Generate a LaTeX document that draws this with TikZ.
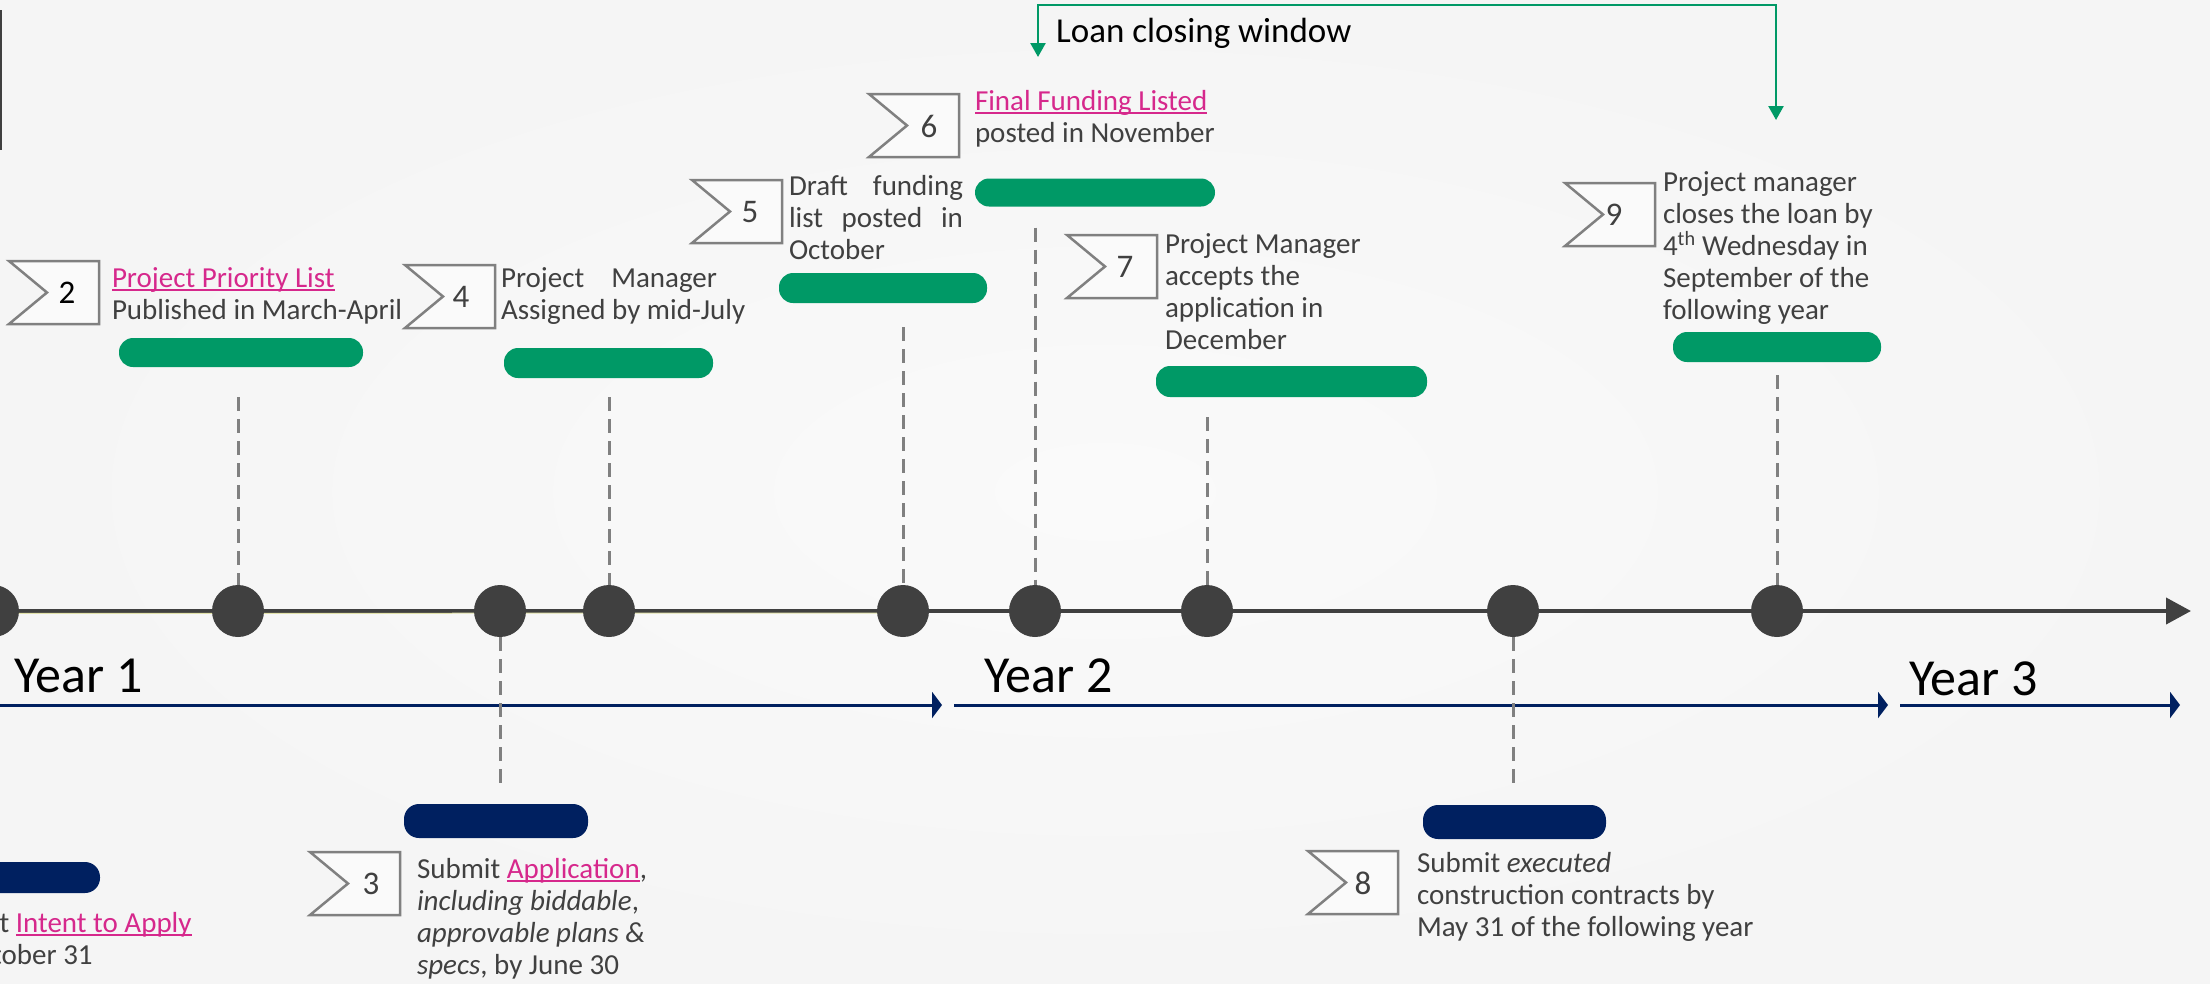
\documentclass[tikz,border=0pt]{standalone}
\usepackage{fontspec}
\setmainfont{Carlito}
\usetikzlibrary{arrows.meta,calc}
\definecolor{bg}{RGB}{245,245,245}
\definecolor{bgin}{RGB}{250,250,250}
\definecolor{tgray}{RGB}{64,64,64}
\definecolor{dotc}{RGB}{64,64,64}
\definecolor{gbar}{RGB}{0,153,102}
\definecolor{nbar}{RGB}{0,32,96}
\definecolor{lpink}{RGB}{214,40,140}
\definecolor{dgray}{RGB}{128,128,128}
\definecolor{paley}{RGB}{225,225,170}
\newcommand\lnk[1]{{\color{lpink}\setbox0\hbox{#1}\rlap{\rule[-3.5pt]{\wd0}{2pt}}\box0}}
\newcommand\fl{\rule{0pt}{23pt}}
\newcommand\bodyf{\fontsize{29}{32}\selectfont}
\newcommand\chevron[5]{%
  \draw[chev] (#2,#3) -- ++(90,0) -- ++(0,63) -- ++(-90,0) -- ++(38,-31.5) -- cycle;
  \node[chnum] (#1) at (#2+#5,#3+32) {#4};}
\begin{document}
\begin{tikzpicture}[x=1pt,y=-1pt,
  txt/.style={anchor=north west, inner sep=0pt, outer sep=0pt, align=left, font=\bodyf, text=tgray},
  gb/.style={rectangle, rounded corners=14pt, fill=gbar, inner sep=0pt},
  nb/.style={rectangle, rounded corners=15pt, fill=nbar, inner sep=0pt},
  dot/.style={circle, fill=dotc, minimum size=52pt, inner sep=0pt},
  dsh/.style={draw=dgray, line width=3pt, dash pattern=on 14pt off 8pt},
  chev/.style={draw=dgray, line width=2.5pt, fill=white!50!bg},
  chnum/.style={font=\fontsize{33}{36}\selectfont, text=tgray, inner sep=0pt},
  year/.style={font=\fontsize{52}{54}\selectfont, anchor=base west, inner sep=0pt, text=black},
  yarrow/.style={draw=nbar, line width=3pt, -{Triangle[length=10pt,width=26pt]}},
  bracket/.style={draw=gbar, line width=2.5pt, {Triangle[length=14pt,width=15pt]}-{Triangle[length=14pt,width=15pt]}}
]
\useasboundingbox (0,0) rectangle (2210,983);
\clip (0,0) rectangle (2210,983);
\shade[inner color=bgin, outer color=bg] (0,0) rectangle (2210,983);
% left frame fragment
\draw[draw=tgray, line width=2pt] (0.8,10) -- (0.8,150);

% loan closing window bracket
\coordinate (lwa) at (1038,57);
\coordinate (lwb) at (1038,5);
\coordinate (lwc) at (1776,5);
\coordinate (lwd) at (1776,120);
\draw[bracket] (lwa) -- (lwb) -- (lwc) -- (lwd);
\node[anchor=base west, inner sep=0pt, font=\fontsize{35}{37}\selectfont, text=black] (loan) at (1056,42) {Loan closing window};

% timeline
\coordinate (tl0) at (-40,611);
\coordinate (tl1) at (2191,611);
\coordinate (tlm) at (903,613);
\draw[draw=dotc, line width=4pt, -{Triangle[length=25pt,width=26pt]}] (tl0) -- (tl1);
\draw[draw=paley, line width=1pt] (-40,613.5) -- (tlm);

% year arrows
\coordinate (ya0) at (-10,705);
\coordinate (ya1) at (942,705);
\coordinate (yb0) at (954,705);
\coordinate (yb1) at (1888,705);
\coordinate (yc0) at (1900,705);
\coordinate (yc1) at (2180,705);
\draw[yarrow] (ya0) -- (ya1);
\draw[yarrow] (yb0) -- (yb1);
\draw[yarrow] (yc0) -- (yc1);
\node[year] (y1) at (14,692) {Year 1};
\node[year] (y2) at (984,692) {Year 2};
\node[year] (y3) at (1909,695) {Year 3};

% milestone dots
\node[dot] (A) at (-7,611) {};
\node[dot] (B) at (238,611) {};
\node[dot] (C) at (500,611) {};
\node[dot] (D) at (609,611) {};
\node[dot] (E) at (903,611) {};
\node[dot] (F) at (1035,611) {};
\node[dot] (G) at (1207,611) {};
\node[dot] (H) at (1513,611) {};
\node[dot] (I) at (1777,611) {};

% bars
\node[gb, minimum width=244pt, minimum height=29pt] (b2) at (241,352.5) {};
\node[gb, minimum width=209pt, minimum height=30pt] (b4) at (608.5,363) {};
\node[gb, minimum width=208pt, minimum height=30pt] (b5) at (883,288) {};
\node[gb, minimum width=240pt, minimum height=28pt] (b6) at (1095,192.5) {};
\node[gb, minimum width=271pt, minimum height=31pt] (b7) at (1291.5,381.5) {};
\node[gb, minimum width=208pt, minimum height=30pt] (b9) at (1777,347) {};
\node[nb, minimum width=150pt, minimum height=31pt] (n1) at (25,877.5) {};
\node[nb, minimum width=184pt, minimum height=34pt] (n3) at (496,821) {};
\node[nb, minimum width=183pt, minimum height=34pt] (n8) at (1514.5,822) {};

% dashed connectors
\draw[dsh] ($(B |- b2.south)+(0,30)$) -- (B.north);
\draw[dsh] ($(D |- b4.south)+(0,19)$) -- (D.north);
\draw[dsh] ($(E |- b5.south)+(0,24)$) -- (E.north);
\draw[dsh] ($(F |- b6.south)+(0,21)$) -- (F.north);
\draw[dsh] ($(G |- b7.south)+(0,20)$) -- (G.north);
\draw[dsh] ($(I |- b9.south)+(0,13)$) -- (I.north);
\draw[dsh] (C.south) -- ($(C |- n3.north)+(0,-14)$);
\draw[dsh] (H.south) -- ($(H |- n8.north)+(0,-15)$);

% chevrons
\chevron{ch2}{9}{261}{\textcolor{black}{2}}{58}
\chevron{ch4}{405}{265}{4}{56}
\chevron{ch5}{692}{180}{5}{58}
\chevron{ch6}{869}{94}{6}{60}
\chevron{ch7}{1067}{235}{7}{58}
\chevron{ch9}{1565}{183}{9}{49}
\chevron{ch3}{310}{852}{3}{61}
\chevron{ch8}{1308}{851}{8}{55}

% texts
\node[txt] (t2) at (112,264) {\fl\lnk{Project Priority List}\\Published in March-April};
\node[txt] (t4) at (501,264) {\fl\hbox to 216pt{Project\hfill Manager}\\Assigned by mid-July};
\node[txt] (t5) at (789,172) {\fl\hbox to 174pt{Draft\hfill funding}\\\hbox to 174pt{list\hfill posted\hfill in}\\October};
\node[txt] (t6) at (975,87) {\fl\lnk{Final Funding Listed}\\posted in November};
\node[txt] (t7) at (1165,230) {\fl Project Manager\\accepts the\\application in\\December};
\node[txt] (t9) at (1663,168) {\fl Project manager\\closes the loan by\\4\textsuperscript{th} Wednesday in\\September of the\\following year};
\node[txt] (t1) at (-74,909) {\fl Submit \lnk{Intent to Apply}\\by October 31};
\node[txt] (t3) at (417,855) {\fl Submit \lnk{Application},\\\textit{including biddable},\\\textit{approvable plans \&}\\\textit{specs}, by June 30};
\node[txt] (t8) at (1417,849) {\fl Submit \textit{executed}\\construction contracts by\\May 31 of the following year};
\end{tikzpicture}
\end{document}
